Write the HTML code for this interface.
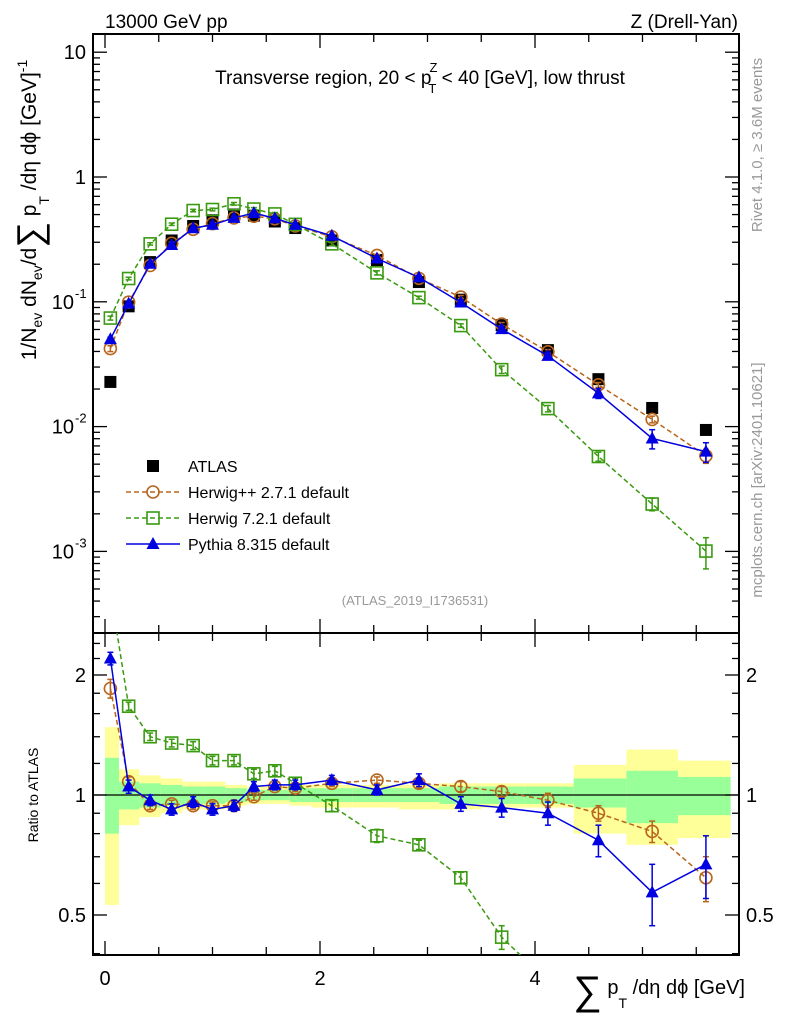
<!DOCTYPE html>
<html><head><meta charset="utf-8"><style>
html,body{margin:0;background:#fff;overflow:hidden;width:786px;height:1024px}
svg{display:block;font-family:"Liberation Sans",sans-serif;overflow:hidden}
</style></head><body>
<svg id="c" width="786" height="1024" viewBox="0 0 786 1024" xmlns="http://www.w3.org/2000/svg">
<g id="bands"></g>
<g id="frame"></g>
<g id="marks"></g>
<text x="105" y="28" font-size="19">13000 GeV pp</text>
<text x="738" y="28" font-size="19" text-anchor="end">Z (Drell-Yan)</text>
<text x="420" y="84" font-size="19" text-anchor="middle">Transverse region, 20 &lt; p<tspan font-size="13" dy="-12" dx="-2">Z</tspan><tspan font-size="13" dy="21" dx="-9">T</tspan><tspan dy="-9"> &lt; 40 [GeV], low thrust</tspan></text>
<text x="415" y="605" font-size="13" fill="#999" text-anchor="middle">(ATLAS_2019_I1736531)</text>
<text transform="translate(762,145) rotate(-90)" font-size="15" fill="#999" text-anchor="middle">Rivet 4.1.0, ≥ 3.6M events</text>
<text transform="translate(762,480) rotate(-90)" font-size="15" fill="#999" text-anchor="middle">mcplots.cern.ch [arXiv:2401.10621]</text>
<text transform="translate(36,210) rotate(-90)" font-size="21" text-anchor="middle">1/N<tspan font-size="14" dy="6">ev</tspan><tspan dy="-6"> dN</tspan><tspan font-size="14" dy="6">ev</tspan><tspan dy="-6">/d</tspan><tspan font-size="36" dy="6">∑</tspan><tspan dy="-6"> p</tspan><tspan font-size="14" dy="13">T</tspan><tspan dy="-13"> /dη dϕ  [GeV]</tspan><tspan font-size="14" dy="-9">-1</tspan></text>
<text transform="translate(38,795) rotate(-90)" font-size="14" text-anchor="middle">Ratio to ATLAS</text>
<text x="745" y="994" font-size="20" text-anchor="end"><tspan font-size="40" dy="10">∑</tspan><tspan dy="-10"> p</tspan><tspan font-size="14" dy="14">T</tspan><tspan dy="-14"> /dη dϕ [GeV]</tspan></text>
<g id="legend"></g>
</svg>
<script>
const xCenters=[0.05,0.22,0.42,0.62,0.82,1.0,1.2,1.385,1.58,1.77,2.11,2.53,2.92,3.31,3.69,4.12,4.59,5.09,5.59];
const binEdges=[0,0.13,0.32,0.52,0.72,0.92,1.12,1.32,1.52,1.72,1.92,2.3,2.73,3.11,3.5,3.9,4.36,4.85,5.33,5.82];
const atlas=[0.0228,0.092,0.208,0.31,0.405,0.45,0.5,0.49,0.44,0.39,0.31,0.216,0.144,0.104,0.065,0.041,0.024,0.0141,0.0094];
const ratioHpp=[1.85,1.08,0.94,0.95,0.94,0.94,0.94,0.99,1.05,1.04,1.07,1.09,1.07,1.05,1.02,0.97,0.9,0.81,0.62];
const ratioH7=[3.25,1.67,1.4,1.35,1.33,1.22,1.22,1.13,1.15,1.07,0.94,0.79,0.75,0.62,0.44,0.34,0.24,0.17,0.107];
const ratioPy=[2.2,1.05,0.97,0.92,0.96,0.92,0.94,1.05,1.06,1.06,1.09,1.03,1.09,0.95,0.93,0.9,0.77,0.57,0.67];
const errPy=[0.08,0.04,0.03,0.03,0.03,0.03,0.03,0.03,0.03,0.03,0.03,0.03,0.04,0.04,0.05,0.06,0.07,0.1,0.12];
const errHpp=[0.1,0.03,0.02,0.02,0.02,0.02,0.02,0.02,0.02,0.02,0.02,0.02,0.03,0.03,0.03,0.04,0.04,0.05,0.08];
const errH7=[0.12,0.04,0.03,0.03,0.03,0.03,0.03,0.03,0.03,0.03,0.03,0.03,0.02,0.02,0.03,0.02,0.02,0.02,0.03];
const yelHi=[1.48,1.16,1.12,1.1,1.08,1.08,1.06,1.05,1.05,1.06,1.06,1.06,1.06,1.07,1.07,1.07,1.19,1.3,1.22];
const yelLo=[0.53,0.84,0.88,0.9,0.92,0.92,0.94,0.95,0.95,0.94,0.93,0.93,0.92,0.92,0.93,0.93,0.8,0.75,0.78];
const grnHi=[1.24,1.08,1.07,1.06,1.05,1.05,1.04,1.03,1.03,1.04,1.04,1.04,1.04,1.05,1.05,1.05,1.1,1.15,1.11];
const grnLo=[0.8,0.92,0.93,0.94,0.95,0.95,0.96,0.97,0.97,0.96,0.96,0.96,0.96,0.95,0.95,0.95,0.93,0.85,0.89];
const xTicks=[0,2,4];
const yTicks=[10,1,0.1,0.01,0.001];
const yTickLabels=["10","1","10","10","10"];
const yTickExp=["","","-1","-2","-3"];
const rTicks=[2,1,0.5];
const rTickLabels=["2","1","0.5"];

const NS="http://www.w3.org/2000/svg";
const L=93,R=739,T=34,MB=633,RB=955;
const X=v=>105+v*107.5;
const Y=v=>177-Math.log10(v)*124.8;
const RY=v=>795-Math.log2(v)*120;
function mk(tag,attrs,parent){const e=document.createElementNS(NS,tag);for(const k in attrs)e.setAttribute(k,attrs[k]);parent.appendChild(e);return e;}
const bands=document.getElementById('bands'),fr=document.getElementById('frame'),mg=document.getElementById('marks'),lg=document.getElementById('legend');
const clipD=mk('defs',{},document.getElementById('c'));
const cp1=mk('clipPath',{id:'cm'},clipD);mk('rect',{x:L,y:T,width:R-L,height:MB-T},cp1);
const cp2=mk('clipPath',{id:'cr'},clipD);mk('rect',{x:L,y:MB,width:R-L,height:RB-MB},cp2);

for(let i=0;i<xCenters.length;i++){
  const x1=X(binEdges[i]),x2=X(binEdges[i+1]);
  const y=mk('rect',{x:x1,y:RY(yelHi[i]),width:x2-x1,height:RY(yelLo[i])-RY(yelHi[i]),fill:'#ffff99'},bands);
  
  
  const g=mk('rect',{x:x1,y:RY(grnHi[i]),width:x2-x1,height:RY(grnLo[i])-RY(grnHi[i]),fill:'#99ff99'},bands);
  
  
}
mk('line',{x1:L,x2:R,y1:RY(1),y2:RY(1),stroke:'#000','stroke-width':1.3},bands);

mk('rect',{x:L,y:T,width:R-L,height:MB-T,fill:'none',stroke:'#000','stroke-width':2},fr);
mk('rect',{x:L,y:MB,width:R-L,height:RB-MB,fill:'none',stroke:'#000','stroke-width':2},fr);
for(let v=0;v<=5.8;v+=0.5){
  const major=Math.abs(v/2-Math.round(v/2))<1e-6, len=major?14:8, x=X(v);
  [[T,1],[MB,-1],[MB,1],[RB,-1]].forEach(([y0,d])=>mk('line',{x1:x,x2:x,y1:y0,y2:y0+d*len,stroke:'#000','stroke-width':1.3},fr));
}
xTicks.forEach(v=>{const t=mk('text',{x:X(v),y:985,'font-size':20,'text-anchor':'middle'},fr);t.textContent=v;
 
 });
for(let d=-4;d<=1;d++)for(let m=1;m<=9;m++){
  const v=m*Math.pow(10,d),y=Y(v);if(y<T||y>MB)continue;const len=m==1?14:7;
  mk('line',{x1:L,x2:L+len,y1:y,y2:y,stroke:'#000','stroke-width':1.3},fr);
  mk('line',{x1:R,x2:R-len,y1:y,y2:y,stroke:'#000','stroke-width':1.3},fr);
}
yTicks.forEach((v,i)=>{const t=mk('text',{x:yTickExp[i]?74:86,y:Y(v)+7,'font-size':20,'text-anchor':'end'},fr);t.textContent=yTickLabels[i];
 
 
 if(yTickExp[i]){const s=mk('text',{x:75,y:Y(v)-4,'font-size':13},fr);s.textContent=yTickExp[i];}});
[0.4,0.5,0.6,0.7,0.8,0.9,1,1.2,1.4,1.6,1.8,2,2.2,2.4].forEach(v=>{const y=RY(v);if(y<MB||y>RB)return;const len=[0.5,1,2].includes(v)?14:7;
  mk('line',{x1:L,x2:L+len,y1:y,y2:y,stroke:'#000','stroke-width':1.3},fr);
  mk('line',{x1:R,x2:R-len,y1:y,y2:y,stroke:'#000','stroke-width':1.3},fr);});
rTicks.forEach((v,i)=>{
 const t=mk('text',{x:86,y:RY(v)+7,'font-size':20,'text-anchor':'end'},fr);t.textContent=rTickLabels[i];
 
 
 const t2=mk('text',{x:746,y:RY(v)+7,'font-size':20},fr);t2.textContent=rTickLabels[i];
 
 });

function marker(kind,x,y,col,g){
  if(kind=='sq')return mk('rect',{x:x-6,y:y-6,width:12,height:12,fill:'none',stroke:col,'stroke-width':1.6},g);
  if(kind=='circ')return mk('circle',{cx:x,cy:y,r:6,fill:'none',stroke:col,'stroke-width':1.6},g);
  if(kind=='tri')return mk('path',{d:`M${x},${y-7}L${x+6.5},${y+5}L${x-6.5},${y+5}Z`,fill:col},g);
  if(kind=='blk')return mk('rect',{x:x-6,y:y-6,width:12,height:12,fill:'#000'},g);
}
const series=[
 {name:'herwig-pp',r:ratioHpp,e:errHpp,col:'#b8651b',kind:'circ',dash:'5,3'},
 {name:'herwig-7',r:ratioH7,e:errH7,col:'#3a9a10',kind:'sq',dash:'5,3'},
 {name:'pythia-8',r:ratioPy,e:errPy,col:'#0000e0',kind:'tri',dash:''}];
atlas.forEach((v,i)=>{const m=marker('blk',X(xCenters[i]),Y(v),'#000',mg);
 
 });
series.forEach(s=>{
  ['main','ratio'].forEach(p=>{
    const g=mk('g',{'clip-path':p=='main'?'url(#cm)':'url(#cr)'},mg);
    const ys=s.r.map((r,i)=>p=='main'?Y(atlas[i]*r):RY(r));
    const pl=mk('polyline',{points:xCenters.map((x,i)=>X(x)+','+ys[i]).join(' '),fill:'none',stroke:s.col,'stroke-width':1.5,'stroke-dasharray':s.dash},g);
    
    
    s.r.forEach((r,i)=>{
      const x=X(xCenters[i]);
      const rl=Math.max(r-s.e[i],r*0.3);
      const hi=p=='main'?Y(atlas[i]*(r+s.e[i])):RY(r+s.e[i]);
      const lo=p=='main'?Y(atlas[i]*rl):RY(rl);
      mk('line',{x1:x,x2:x,y1:hi,y2:lo,stroke:s.col,'stroke-width':1.5},g);
      mk('line',{x1:x-3,x2:x+3,y1:hi,y2:hi,stroke:s.col,'stroke-width':1.5},g);
      mk('line',{x1:x-3,x2:x+3,y1:lo,y2:lo,stroke:s.col,'stroke-width':1.5},g);
      const m=marker(s.kind,x,ys[i],s.col,g);
      
      
    });
  });
});
const leg=[['blk','#000','','ATLAS'],['circ','#b8651b','5,3','Herwig++ 2.7.1 default'],['sq','#3a9a10','5,3','Herwig 7.2.1 default'],['tri','#0000e0','','Pythia 8.315 default']];
leg.forEach((l,i)=>{const y=466+i*26;
  if(l[0]!='blk')mk('line',{x1:126,x2:180,y1:y,y2:y,stroke:l[1],'stroke-width':1.5,'stroke-dasharray':l[2]},lg);
  marker(l[0],153,y,l[1],lg);
  const t=mk('text',{x:188,y:y+6,'font-size':16},lg);t.textContent=l[3];
  
  });
</script>
</body></html>
